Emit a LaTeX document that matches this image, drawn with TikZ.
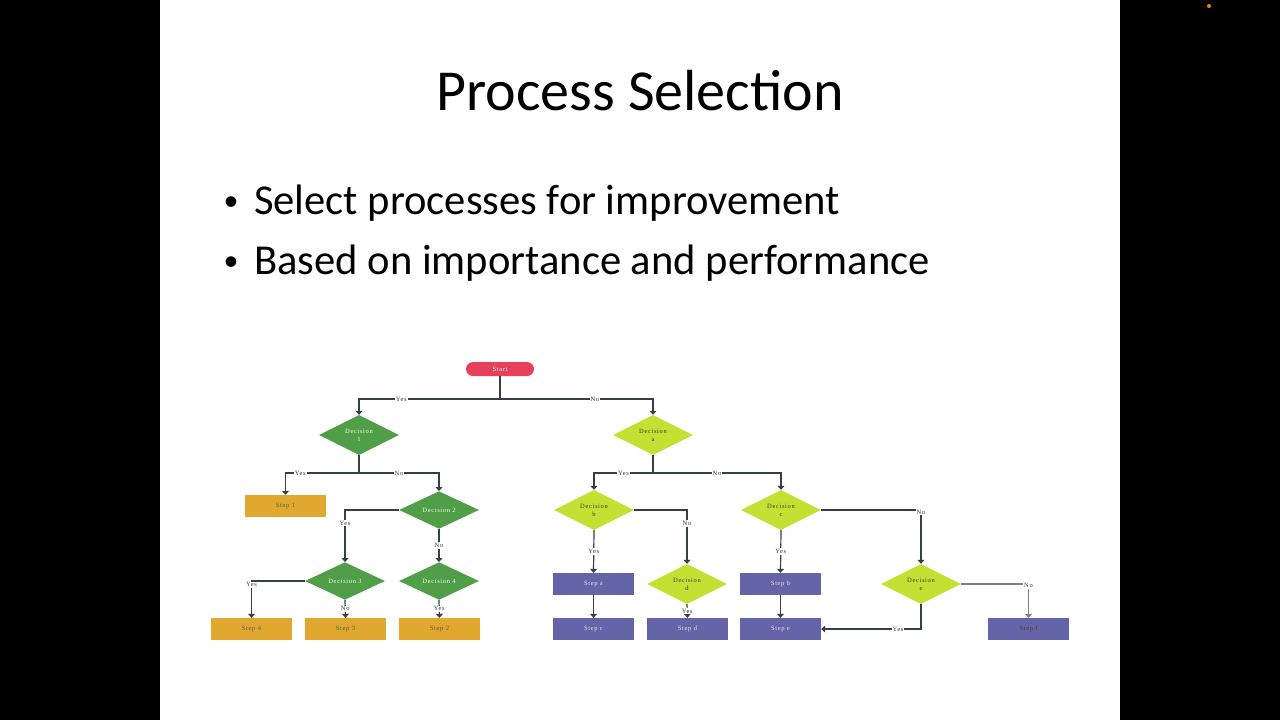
\documentclass[tikz,border=0pt]{standalone}
\usepackage{fontspec}
\setmainfont{Carlito}
\newfontfamily\flowfont[LetterSpace=10]{Liberation Serif}
\usetikzlibrary{shapes.geometric,arrows.meta}
\definecolor{startred}{RGB}{230,64,92}
\definecolor{decgreen}{RGB}{80,158,72}
\definecolor{declime}{RGB}{196,224,50}
\definecolor{stepgold}{RGB}{224,168,46}
\definecolor{steppurple}{RGB}{100,100,168}
\definecolor{connclr}{RGB}{55,62,72}

\begin{document}
\begin{tikzpicture}[x=1pt, y=-1pt,
    flow/.style={font=\flowfont\fontsize{6.5}{8}\selectfont, align=center, inner sep=0},
    decG/.style={flow, diamond, fill=decgreen, text=green!8, minimum width=80pt, minimum height=30pt},
    decL/.style={flow, diamond, fill=declime, text=black!75, minimum width=80pt, minimum height=30pt},
    stepG/.style={flow, rectangle, fill=stepgold, text=black!65, minimum width=81pt, minimum height=22pt},
    stepP/.style={flow, rectangle, fill=steppurple, text=white!90!black, minimum width=81pt, minimum height=22pt},
    conn/.style={draw=connclr, line width=1.2pt},
    arr/.style={conn, -{Triangle[length=4pt,width=7pt]}},
    lbl/.style={font=\flowfont\fontsize{6.5}{7}\selectfont, fill=white, inner sep=1pt, text=black!80}]
    \useasboundingbox (0,0) rectangle (1280,720);
    \fill[black] (0,0) rectangle (1280,720);
    \fill[white] (160,0) rectangle (1120,720);
    \fill[orange!80!brown] (1209,6) circle (2);

    % slide text
    \node[anchor=base, font=\fontsize{58}{60}\selectfont] (title) at (640,110) {Process Selection};
    \node[anchor=base, font=\fontsize{30}{32}\selectfont] (dot1) at (231,210) {\textbullet};
    \node[anchor=base west, font=\fontsize{42.6}{44}\selectfont, inner sep=0] (item1) at (254,214) {Select processes for improvement};
    \node[anchor=base, font=\fontsize{30}{32}\selectfont] (dot2) at (231,270) {\textbullet};
    \node[anchor=base west, font=\fontsize{42.6}{44}\selectfont, inner sep=0] (item2) at (254,274) {Based on importance and performance};

    % flowchart nodes
    \node[flow, fill=startred, text=white, rounded corners=7pt, minimum width=68pt, minimum height=14pt] (start) at (500,369) {Start};

    \node[decG] (dec1) at (359,435) {Decision\\1};
    \node[decG] (dec2) at (439,510) {Decision 2};
    \node[decG] (dec3) at (345,581) {Decision 3};
    \node[decG] (dec4) at (439,581) {Decision 4};
    \node[stepG] (step1) at (285.5,506) {Step 1};
    \node[stepG] (step4) at (251.5,629) {Step 4};
    \node[stepG] (step3) at (345.5,629) {Step 3};
    \node[stepG] (step2) at (439.5,629) {Step 2};

    \node[decL] (deca) at (653,435) {Decision\\a};
    \node[decL] (decb) at (594,510) {Decision\\b};
    \node[decL] (decc) at (781,510) {Decision\\c};
    \node[decL] (decd) at (687,584) {Decision\\d};
    \node[decL] (dece) at (921,584) {Decision\\e};
    \node[stepP] (stepa) at (593.5,584) {Step a};
    \node[stepP] (stepc) at (593.5,629) {Step c};
    \node[stepP] (stepd) at (687.5,629) {Step d};
    \node[stepP] (stepb) at (780.5,584) {Step b};
    \node[stepP] (stepe) at (780.5,629) {Step e};
    \node[stepP, text=black!75] (stepf) at (1028.5,629) {Step f};

    \coordinate (j0) at (500,399);
    \coordinate (j1) at (359,473);
    \coordinate (ja) at (653,473);

    % connectors
    \draw[conn] (start.south) -- (j0);
    \draw[arr] (j0) -| node[lbl, pos=0.35] {Yes} (dec1.north);
    \draw[arr] (j0) -| node[lbl, pos=0.31] {No} (deca.north);

    \draw[conn] (dec1.south) -- (j1);
    \draw[arr] (j1) -| node[lbl, pos=0.4] {Yes} (step1.north);
    \draw[arr] (j1) -| node[lbl, pos=0.25] {No} (dec2.north);
    \draw[arr] (dec2.west) -| node[lbl, pos=0.625] {Yes} (dec3.north);
    \draw[arr] (dec2.south) -- node[lbl] {No} (dec4.north);
    \draw[arr] (dec3.west) -| node[lbl, pos=0.55] {Yes} (step4.north);
    \draw[arr] (dec3.south) -- node[lbl] {No} (step3.north);
    \draw[arr] (dec4.south) -- node[lbl] {Yes} (step2.north);

    \draw[conn] (deca.south) -- (ja);
    \draw[arr] (ja) -| node[lbl, pos=0.25] {Yes} (decb.north);
    \draw[arr] (ja) -| node[lbl, pos=0.25] {No} (decc.north);
    \draw[arr] (decb.east) -| node[lbl, pos=0.625] {No} (decd.north);
    \draw[arr] (decb.south) -- node[lbl] {Yes} (stepa.north);
    \draw[arr] (stepa) -- (stepc);
    \draw[arr] (decd.south) -- node[lbl] {Yes} (stepd.north);
    \draw[arr] (decc.south) -- node[lbl] {Yes} (stepb.north);
    \draw[arr] (stepb) -- (stepe);
    \draw[arr] (decc.east) -| node[lbl, pos=0.52] {No} (dece.north);
    \draw[arr, draw=gray] (dece.east) -| node[lbl, pos=0.52] {No} (stepf.north);
    \draw[arr] (dece.south) |- node[lbl, pos=0.615] {Yes} (stepe.east);
  \end{tikzpicture}
\end{document}
